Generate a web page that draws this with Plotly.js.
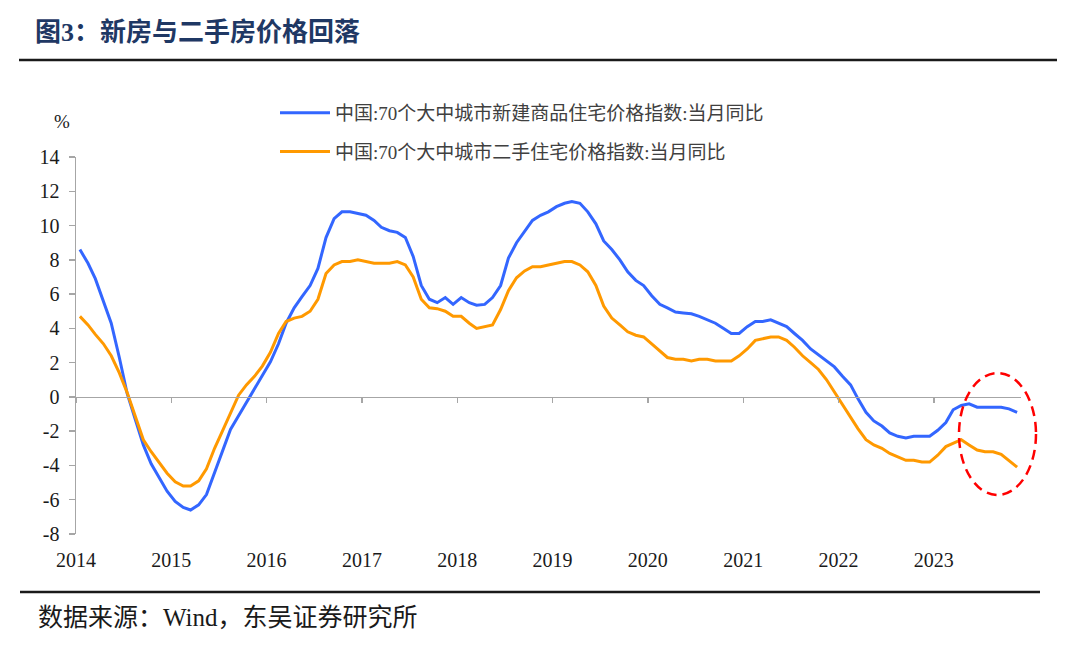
<!DOCTYPE html>
<html>
<head>
<meta charset="utf-8">
<script src="https://cdn.plot.ly/plotly-3.0.1.min.js"></script>
<style>
html,body{margin:0;padding:0;background:#fff;}
#chart{width:1080px;height:645px;}
</style>
</head>
<body>
<div id="chart"></div>
<script>
// ---------- DATA (monthly, Jan 2014 - Nov 2023) ----------
const seriesNames = [
  "中国:70个大中城市新建商品住宅价格指数:当月同比",
  "中国:70个大中城市二手住宅价格指数:当月同比"
];
const firstYear = 2014;
const newHomeYoY = [
  8.6, 7.8, 6.9, 5.6, 4.3, 2.3, 0.2, -1.3, -2.8, -3.9, -4.7, -5.5,
  -6.1, -6.45, -6.6, -6.3, -5.7, -4.4, -3.1, -1.9, -1.1, -0.3, 0.5, 1.25,
  2.05, 3.1, 4.3, 5.2, 5.85, 6.5, 7.5, 9.3, 10.4, 10.8, 10.8, 10.7,
  10.6, 10.3, 9.9, 9.7, 9.6, 9.3, 8.2, 6.5, 5.7, 5.5, 5.8, 5.4,
  5.8, 5.5, 5.35, 5.4, 5.8, 6.5, 8.1, 9.0, 9.7, 10.3, 10.6, 10.8,
  11.1, 11.3, 11.4, 11.3, 10.8, 10.1, 9.1, 8.6, 8.0, 7.3, 6.8, 6.5,
  5.9, 5.4, 5.2, 4.95, 4.9, 4.85, 4.7, 4.5, 4.3, 4.0, 3.7, 3.7,
  4.1, 4.4, 4.4, 4.5, 4.3, 4.1, 3.7, 3.3, 2.8, 2.45, 2.05, 1.75,
  1.2, 0.7, -0.1, -0.9, -1.4, -1.7, -2.1, -2.3, -2.4, -2.3, -2.3, -2.3,
  -1.95, -1.5, -0.75, -0.5, -0.4, -0.6, -0.6, -0.6, -0.6, -0.7, -0.9
];
const secondHandYoY = [
  4.7, 4.2, 3.65, 3.1, 2.4, 1.4, 0.25, -1.1, -2.5, -3.2, -3.85, -4.45,
  -4.95, -5.2, -5.2, -4.9, -4.2, -3.0, -2.0, -0.9, 0.1, 0.7, 1.2, 1.8,
  2.6, 3.7, 4.4, 4.6, 4.7, 5.0, 5.7, 7.2, 7.7, 7.9, 7.9, 8.0,
  7.9, 7.8, 7.8, 7.8, 7.9, 7.7, 7.0, 5.7, 5.2, 5.15, 5.0, 4.7,
  4.7, 4.3, 4.0, 4.1, 4.2, 5.1, 6.2, 6.95, 7.35, 7.6, 7.6, 7.7,
  7.8, 7.9, 7.9, 7.7, 7.3, 6.5, 5.3, 4.6, 4.2, 3.8, 3.6, 3.5,
  3.1, 2.7, 2.3, 2.2, 2.2, 2.1, 2.2, 2.2, 2.1, 2.1, 2.1, 2.4,
  2.8, 3.3, 3.4, 3.5, 3.5, 3.3, 2.9, 2.4, 2.0, 1.6, 1.0, 0.3,
  -0.5, -1.2, -1.85, -2.5, -2.8, -3.0, -3.3, -3.5, -3.7, -3.7, -3.8, -3.8,
  -3.4, -2.9, -2.7, -2.5, -2.8, -3.1, -3.2, -3.2, -3.35, -3.7, -4.1
];
const yearLabels = ["2014","2015","2016","2017","2018","2019","2020","2021","2022","2023"];
const yTickVals = [-8, -6, -4, -2, 0, 2, 4, 6, 8, 10, 12, 14];
const yTickText = ["-8", "-6", "-4", "-2", "0", "2", "4", "6", "8", "10", "12", "14"];

// month categories (mid-month dates)
const months = newHomeYoY.map((_, i) => {
  const y = firstYear + Math.floor(i / 12);
  const m = (i % 12) + 1;
  return y + "-" + String(m).padStart(2, "0") + "-16";
});
const yearTicks = yearLabels.map(y => y + "-01-01");
const xRange = [firstYear + "-01-01", "2023-12-01"];

// ---------- LAYOUT HELPERS ----------
const W = 1080, H = 645;
const M = {l: 76, r: 59, t: 157, b: 111};
const PW = W - M.l - M.r, PH = H - M.t - M.b;
const px = x => (x - M.l) / PW;
const py = y => (H - M.b - y) / PH;

const FONT = "'Liberation Serif', 'Times New Roman', 'Noto Sans CJK SC', serif";
const axisGrey = "#A6A6A6";

const traces = [
  {
    x: months, y: newHomeYoY, name: seriesNames[0], type: "scatter", mode: "lines",
    line: {color: "#3366FF", width: 3}, xaxis: "x", yaxis: "y", legendgroup: "a"
  },
  {
    x: months, y: secondHandYoY, name: seriesNames[1], type: "scatter", mode: "lines",
    line: {color: "#FF9900", width: 3}, xaxis: "x2", yaxis: "y", legendgroup: "b"
  }
];

const layout = {
  width: W, height: H,
  margin: M,
  paper_bgcolor: "#fff", plot_bgcolor: "#fff",
  font: {family: FONT, size: 19, color: "#262626"},
  title: {
    text: "<b>图3：新房与二手房价格回落</b>",
    xref: "container", yref: "container",
    x: 35 / W, y: 1 - 32 / H, xanchor: "left", yanchor: "middle",
    font: {family: FONT, size: 26, color: "#1F3864"}
  },
  showlegend: true,
  legend: {
    x: px(275), y: py(94), xanchor: "left", yanchor: "top",
    bgcolor: "rgba(0,0,0,0)", font: {family: FONT, size: 19, color: "#404040"},
    tracegroupgap: 11, itemwidth: 50
  },
  xaxis: {
    type: "date", range: xRange,
    tickvals: yearTicks, ticktext: yearLabels,
    showline: false, ticks: "", showgrid: false, zeroline: false,
    ticklabelstandoff: 12,
    tickfont: {family: FONT, size: 20, color: "#1a1a1a"}
  },
  xaxis2: {
    type: "date", range: xRange, overlaying: "x", anchor: "free", position: 8 / 22,
    tickvals: yearTicks, showticklabels: false,
    showline: true, linecolor: axisGrey, linewidth: 1.5,
    ticks: "outside", ticklen: 5, tickcolor: axisGrey, tickwidth: 1.5,
    showgrid: false, zeroline: false
  },
  yaxis: {
    range: [-8, 14], tickvals: yTickVals, ticktext: yTickText,
    showline: true, linecolor: axisGrey, linewidth: 1.5,
    ticks: "outside", ticklen: 6, tickcolor: axisGrey, tickwidth: 1.5,
    showgrid: false, zeroline: false, ticklabelstandoff: 5,
    tickfont: {family: FONT, size: 20, color: "#1a1a1a"}
  },
  shapes: [
    {type: "line", xref: "paper", yref: "paper", x0: px(19), x1: px(1057), y0: py(60), y1: py(60),
     line: {color: "#1a1a1a", width: 2.5}},
    {type: "line", xref: "paper", yref: "paper", x0: px(20), x1: px(1040), y0: py(592), y1: py(592),
     line: {color: "#1a1a1a", width: 2.5}},
    {type: "circle", xref: "paper", yref: "paper", x0: px(959), x1: px(1036), y0: py(495), y1: py(373),
     line: {color: "#FF0000", width: 2.5, dash: "10px,6px"}}
  ],
  annotations: [
    {text: "%", xref: "paper", yref: "paper", x: px(62), y: py(121), xanchor: "center", yanchor: "middle",
     showarrow: false, font: {family: FONT, size: 19, color: "#1a1a1a"}},
    {text: "数据来源：Wind，东吴证券研究所", xref: "paper", yref: "paper", x: px(36), y: py(617),
     xanchor: "left", yanchor: "middle", showarrow: false,
     font: {family: FONT, size: 25, color: "#1a1a1a"}}
  ]
};

Plotly.newPlot("chart", traces, layout, {staticPlot: true, displayModeBar: false});
</script>
</body>
</html>
